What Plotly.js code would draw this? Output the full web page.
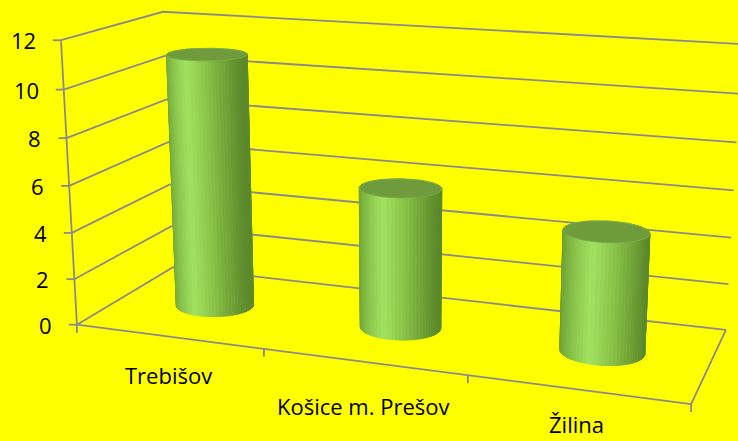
<!DOCTYPE html>
<html><head><meta charset="utf-8">
<script src="https://cdn.plot.ly/plotly-3.0.1.min.js"></script>
<style>html,body{margin:0;padding:0;background:#ffff00;}#chart{width:738px;height:441px;}</style>
</head><body><div id="chart"></div>
<script>
// ---- data ----
const categories = ['Trebišov', 'Košice m. Prešov', 'Žilina'];
const values = [11, 6, 5];
const valueTicks = [0, 2, 4, 6, 8, 10, 12];

// ---- 3D frame (perspective box, Excel-like view) ----
// box corners (u: category axis 0..1, v: depth 0..1, w: value axis 0..1) and where they land on the page
const frameBox = [[0,0,0],[0,0,1],[0,1,1],[0,1,0],[1,0,0],[1,1,0],[1,1,1]];
const framePix = [[77,325],[61,40],[163,12],[173,267],[691,404],[726,330],[742,44]];

function solve(A, b) {
  const n = b.length, M = A.map((r, i) => r.concat([b[i]]));
  for (let c = 0; c < n; c++) {
    let p = c;
    for (let r = c + 1; r < n; r++) if (Math.abs(M[r][c]) > Math.abs(M[p][c])) p = r;
    [M[c], M[p]] = [M[p], M[c]];
    for (let r = 0; r < n; r++) if (r !== c) {
      const f = M[r][c] / M[c][c];
      for (let k = c; k <= n; k++) M[r][k] -= f * M[c][k];
    }
  }
  return M.map((r, i) => r[n] / r[i]);
}
const rows = [], rhs = [];
frameBox.forEach(([u, v, w], i) => {
  const [X, Y] = framePix[i];
  rows.push([u, v, w, 1, 0, 0, 0, 0, -X*u, -X*v, -X*w]); rhs.push(X);
  rows.push([0, 0, 0, 0, u, v, w, 1, -Y*u, -Y*v, -Y*w]); rhs.push(Y);
});
const AtA = [], Atb = [];
for (let i = 0; i < 11; i++) {
  AtA.push([]); let s = 0;
  for (let j = 0; j < 11; j++) { let t = 0; rows.forEach(r => t += r[i]*r[j]); AtA[i].push(t); }
  rows.forEach((r, k) => s += r[i]*rhs[k]); Atb.push(s);
}
const P = solve(AtA, Atb);
function proj(u, v, w) {
  const d = P[8]*u + P[9]*v + P[10]*w + 1;
  return [(P[0]*u + P[1]*v + P[2]*w + P[3]) / d, (P[4]*u + P[5]*v + P[6]*w + P[7]) / d];
}

const nCat = categories.length;
const zMax = valueTicks[valueTicks.length - 1];
const U = i => (i + 0.5) / nCat;       // category scale
const W = val => val / zMax;          // value scale
const grey = '#8a8a8a';
const traces = [];

// ---- walls: gridlines on left and back walls ----
const gx = [], gy = [];
valueTicks.forEach(t => {
  [[0,0],[0,1],[1,1]].forEach(([u, v]) => { const p = proj(u, v, W(t)); gx.push(p[0]); gy.push(p[1]); });
  gx.push(null); gy.push(null);
});
traces.push({x: gx, y: gy, mode: 'lines', line: {color: grey, width: 1.8}, hoverinfo: 'skip'});

// ---- axis lines, floor outline, ticks ----
const ax = [], ay = [];
function seg(a, b) { ax.push(a[0], b[0], null); ay.push(a[1], b[1], null); }
seg(proj(0,0,0), proj(0,0,1));
seg(proj(0,0,0), proj(1,0,0));
seg(proj(1,0,0), proj(1,1,0));
valueTicks.forEach(t => { const p = proj(0,0,W(t)); seg([p[0]-8, p[1]], p); });
for (let i = 0; i <= nCat; i++) { const p = proj(i/nCat,0,0); seg(p, [p[0], p[1]+8]); }
traces.push({x: ax, y: ay, mode: 'lines', line: {color: grey, width: 1.8}, hoverinfo: 'skip'});

// ---- cylinders ----
const shadeStops = [[-1,[0x6a,0x9c,0x34]],[-0.55,[0x88,0xc2,0x4a]],[-0.1,[0xa2,0xe2,0x62]],[0.35,[0x8c,0xc6,0x4b]],[0.8,[0x6e,0x9e,0x36]],[1,[0x5c,0x89,0x2c]]];
function shade(c) {
  for (let k = 1; k < shadeStops.length; k++) {
    const [c0, a] = shadeStops[k-1], [c1, b] = shadeStops[k];
    if (c <= c1) {
      const f = (c - c0) / (c1 - c0);
      return 'rgb(' + a.map((x, j) => Math.round(x + (b[j]-x)*f)).join(',') + ')';
    }
  }
  return 'rgb(92,137,44)';
}
const ru = 0.066, rv = 0.18, NS = 72;
categories.forEach((c, i) => {
  const cu = U(i), cv = 0.5, h = W(values[i]);
  const strips = [];
  for (let k = 0; k < NS; k++) {
    const t0 = 2*Math.PI*k/NS, t1 = 2*Math.PI*(k+1)/NS, tm = (t0+t1)/2;
    const q = [[t0,0],[t1,0],[t1,h],[t0,h]].map(([t, z]) => proj(cu + ru*Math.cos(t), cv + rv*Math.sin(t), z));
    strips.push({depth: Math.sin(tm), q, col: shade(Math.cos(tm))});
  }
  strips.sort((a, b) => b.depth - a.depth);
  strips.forEach(s => traces.push({
    x: s.q.map(p => p[0]).concat([s.q[0][0]]), y: s.q.map(p => p[1]).concat([s.q[0][1]]),
    mode: 'lines', fill: 'toself', fillcolor: s.col, line: {color: s.col, width: 0.8}, hoverinfo: 'skip'
  }));
  const capx = [], capy = [];
  for (let k = 0; k <= NS; k++) {
    const t = 2*Math.PI*k/NS, p = proj(cu + ru*Math.cos(t), cv + rv*Math.sin(t), h);
    capx.push(p[0]); capy.push(p[1]);
  }
  traces.push({x: capx, y: capy, mode: 'lines', fill: 'toself', fillcolor: '#6f9b3d',
    line: {color: '#7aab42', width: 1}, hoverinfo: 'skip'});
});

// ---- text ----
const font = {family: '"Open Sans", Lato, sans-serif', size: 22, color: '#000'};
const annotations = [];
valueTicks.forEach(t => {
  const p = proj(0, 0, W(t));
  annotations.push({x: p[0] - 23, y: p[1], text: String(t), showarrow: false, xanchor: 'right', yanchor: 'middle', font, xref: 'x', yref: 'y'});
});
categories.forEach((c, i) => {
  const p = proj(U(i), 0, 0);
  annotations.push({x: p[0], y: Math.min(p[1] + 38 + 6*i, 424), text: c, showarrow: false, xanchor: 'center', yanchor: 'middle', font, xref: 'x', yref: 'y'});
});

const layout = {
  width: 738, height: 441,
  paper_bgcolor: '#ffff00', plot_bgcolor: '#ffff00',
  margin: {l: 0, r: 0, t: 0, b: 0},
  showlegend: false,
  xaxis: {range: [0, 738], visible: false, fixedrange: true},
  yaxis: {range: [441, 0], visible: false, fixedrange: true},
  annotations
};
Plotly.newPlot('chart', traces, layout, {displayModeBar: false, staticPlot: true});
</script></body></html>
